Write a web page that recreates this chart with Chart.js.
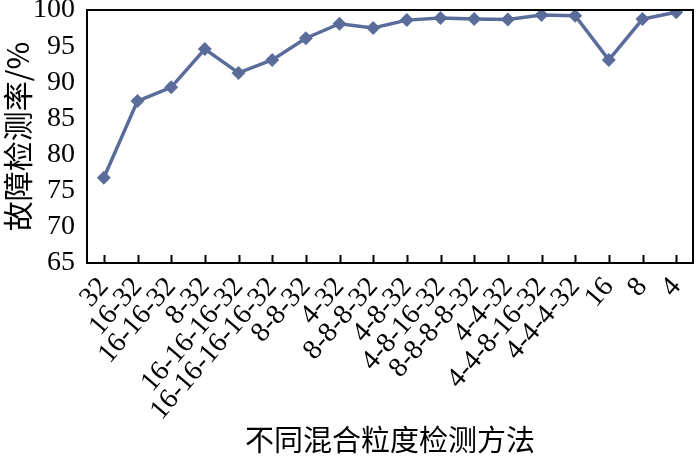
<!DOCTYPE html>
<html>
<head>
<meta charset="utf-8">
<script src="https://cdn.jsdelivr.net/npm/chart.js@4/dist/chart.umd.min.js"></script>
<style>
  html, body { margin: 0; padding: 0; background: #fff; }
  #wrap { width: 700px; height: 459px; }
</style>
</head>
<body>
<div id="wrap"><canvas id="chart"></canvas></div>
<script>
const methods = ['32', '16-32', '16-16-32', '8-32', '16-16-16-32', '16-16-16-16-32', '8-8-32', '4-32',
    '8-8-8-32', '4-8-32', '4-8-16-32', '8-8-8-8-32', '4-4-32', '4-4-8-16-32', '4-4-4-32', '16', '8', '4'];
const detectRate = [76.8, 87.4, 89.3, 94.6, 91.3, 93.1, 96.1, 98.1,
    97.5, 98.6, 98.9, 98.75, 98.7, 99.3, 99.2, 93.1, 98.75, 99.7];
const yTicks = [65, 70, 75, 80, 85, 90, 95, 100];

const lineColor = '#5a6d9a';
const serif = '"Liberation Serif", "Times New Roman", serif';
const cjk = '"Noto Sans CJK SC", sans-serif';

// frame round the plot + inward ticks on the x axis
const framePlugin = {
    id: 'frame',
    afterDraw(chart) {
        const ctx = chart.ctx, a = chart.chartArea, xs = chart.scales.x;
        ctx.save();
        ctx.strokeStyle = '#000';
        ctx.lineWidth = 2;
        ctx.strokeRect(a.left, a.top, a.right - a.left, a.bottom - a.top);
        ctx.beginPath();
        for (let i = 0; i < methods.length; i++) {
            const x = Math.round(xs.getPixelForTick(i)) + 0.5;
            ctx.moveTo(x, a.bottom);
            ctx.lineTo(x, a.bottom - 8);
        }
        ctx.stroke();
        ctx.restore();
    }
};

function draw() {
    new Chart(document.getElementById('chart'), {
        type: 'line',
        data: {
            labels: methods,
            datasets: [{
                data: detectRate,
                borderColor: lineColor,
                backgroundColor: lineColor,
                borderWidth: 3.5,
                pointStyle: 'rectRot',
                pointRadius: 7,
                pointBorderWidth: 0,
                tension: 0
            }]
        },
        options: {
            responsive: true,
            maintainAspectRatio: false,
            animation: false,
            layout: { padding: { top: 10, right: 2, left: 0, bottom: 2 } },
            plugins: { legend: { display: false }, tooltip: { enabled: false } },
            scales: {
                x: {
                    offset: true,
                    grid: { display: false },
                    border: { display: false },
                    afterFit(s) { s.height = 194; s.paddingLeft = 0; s.paddingRight = 0; },
                    ticks: {
                        color: '#000',
                        font: { family: serif, size: 28 },
                        minRotation: 49,
                        maxRotation: 49,
                        padding: 0,
                        autoSkip: false
                    },
                    title: {
                        display: true,
                        text: '不同混合粒度检测方法',
                        color: '#000',
                        font: { family: cjk, size: 29 },
                        padding: { top: 4, bottom: 0 }
                    }
                },
                y: {
                    min: 65,
                    max: 100,
                    afterBuildTicks(s) { s.ticks = yTicks.map(v => ({ value: v })); },
                    afterFit(s) { s.width = 87; s.paddingTop = 0; s.paddingBottom = 0; },
                    grid: { display: false },
                    border: { display: false },
                    ticks: {
                        color: '#000',
                        font: { family: serif, size: 28 },
                        padding: 4,
                        autoSkip: false
                    },
                    title: {
                        display: true,
                        text: '故障检测率/%',
                        color: '#000',
                        font: { family: cjk, size: 30 },
                        padding: { top: 0, bottom: 0 }
                    }
                }
            }
        },
        plugins: [framePlugin]
    });
}

Promise.all([
    document.fonts.load('28px "Liberation Serif"'),
    document.fonts.load('29px "Noto Sans CJK SC"', '故障')
]).then(draw, draw);
</script>
</body>
</html>
